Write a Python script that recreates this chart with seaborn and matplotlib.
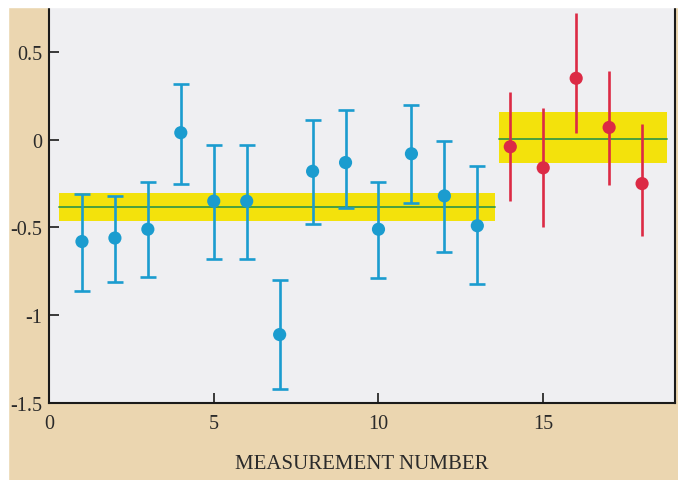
import numpy as np
import pandas as pd
import matplotlib
matplotlib.use("Agg")
import matplotlib.pyplot as plt
import seaborn as sns

# data
blue_x = [1, 2, 3, 4, 5, 6, 7, 8, 9, 10, 11, 12, 13]
blue_y = [-0.58, -0.56, -0.51, 0.04, -0.35, -0.35, -1.11, -0.18, -0.13, -0.51, -0.08, -0.32, -0.49]
blue_hi = [-0.31, -0.32, -0.24, 0.32, -0.03, -0.03, -0.80, 0.11, 0.17, -0.24, 0.20, -0.01, -0.15]
blue_lo = [-0.86, -0.81, -0.78, -0.25, -0.68, -0.68, -1.42, -0.48, -0.39, -0.79, -0.36, -0.64, -0.82]

red_x = [14, 15, 16, 17, 18]
red_y = [-0.04, -0.16, 0.35, 0.07, -0.25]
red_hi = [0.27, 0.18, 0.72, 0.39, 0.09]
red_lo = [-0.35, -0.50, 0.04, -0.26, -0.55]

# averages with bands: (x start, x end, mean, band low, band high)
band_blue = (0.3, 13.55, -0.385, -0.463, -0.305)
band_red = (13.65, 18.75, 0.005, -0.13, 0.156)

x_ticks = [0, 5, 10, 15]
y_ticks = [0.5, 0, -0.5, -1, -1.5]
y_tick_labels = ["0.5", "0", "-0.5", "-1", "-1.5"]
x_label = "MEASUREMENT NUMBER"

BLUE = "#1b9ccf"
RED = "#dc2a45"
YELLOW = "#f3e20c"
GREEN = "#3b9a43"
TAN = "#ebd6b0"
FACE = "#efeff2"

sns.set_style("ticks")
plt.rcParams["font.family"] = ["Liberation Serif", "DejaVu Serif"]

fig = plt.figure(figsize=(6.78, 4.81), dpi=100, facecolor=TAN)
# white scan border on top and left
fig.patches.append(plt.Rectangle((0, 0.983), 1, 0.02, transform=fig.transFigure, color="white", zorder=0))
fig.patches.append(plt.Rectangle((0, 0), 0.012, 1, transform=fig.transFigure, color="white", zorder=0))

ax = fig.add_axes([0.0723, 0.160, 0.9233, 0.823])
ax.set_facecolor(FACE)

for (x0, x1, m, lo, hi) in [band_blue, band_red]:
    ax.fill_between([x0, x1], [lo, lo], [hi, hi], color=YELLOW, lw=0, zorder=1)
    ax.plot([x0, x1], [m, m], color=GREEN, lw=1.3, zorder=2)

bdf = pd.DataFrame({"x": blue_x, "y": blue_y, "lo": blue_lo, "hi": blue_hi})
rdf = pd.DataFrame({"x": red_x, "y": red_y, "lo": red_lo, "hi": red_hi})

ax.errorbar(bdf["x"], bdf["y"], yerr=[bdf["y"] - bdf["lo"], bdf["hi"] - bdf["y"]],
            fmt="none", ecolor=BLUE, elinewidth=1.9, capsize=5.5, capthick=1.9, zorder=3)
ax.errorbar(rdf["x"], rdf["y"], yerr=[rdf["y"] - rdf["lo"], rdf["hi"] - rdf["y"]],
            fmt="none", ecolor=RED, elinewidth=1.9, capsize=0, zorder=3)
sns.scatterplot(data=bdf, x="x", y="y", color=BLUE, s=90, edgecolor="none", ax=ax, zorder=4)
sns.scatterplot(data=rdf, x="x", y="y", color=RED, s=90, edgecolor="none", ax=ax, zorder=4)

ax.set_xlim(0, 19)
ax.set_ylim(-1.5, 0.755)
ax.set_xticks(x_ticks)
ax.set_xticklabels([str(t) for t in x_ticks])
ax.set_yticks(y_ticks)
ax.set_yticklabels(y_tick_labels)
ax.tick_params(direction="in", length=7, width=1.3, labelsize=14.5, colors="#2a2a2a")
ax.tick_params(axis="x", pad=8)
ax.tick_params(axis="y", pad=5)
ax.set_xlabel(x_label, fontsize=15, color="#2a2a2a", labelpad=15)
ax.set_ylabel("")
for s in ["left", "bottom", "right"]:
    ax.spines[s].set_color("#1a1a1a")
    ax.spines[s].set_linewidth(1.5)
ax.spines["top"].set_visible(False)

fig.savefig("out.png", dpi=100, facecolor=TAN)
